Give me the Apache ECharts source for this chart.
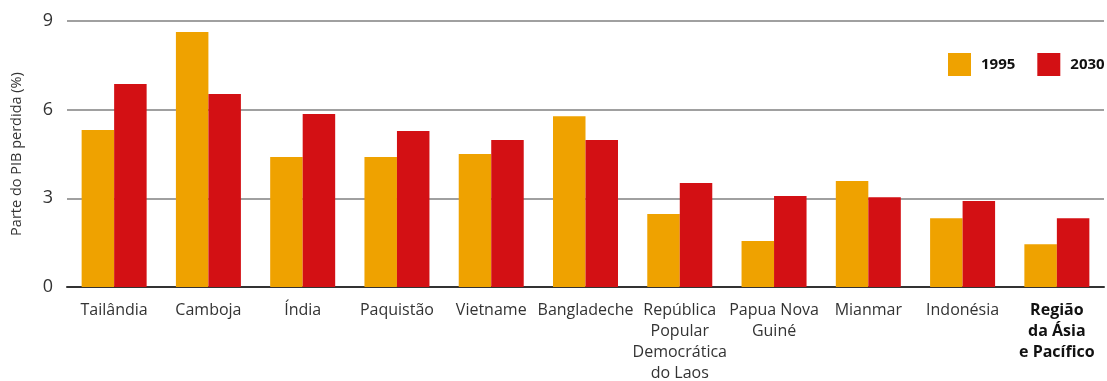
<!DOCTYPE html>
<html>
<head>
<meta charset="utf-8">
<script src="https://cdn.jsdelivr.net/npm/echarts@6/dist/echarts.min.js"></script>
<style>
  html, body { margin: 0; padding: 0; background: #fff; }
  #chart { width: 1107px; height: 381px; }
</style>
</head>
<body>
<div id="chart"></div>
<script>
// Share of GDP lost (%) by country, 1995 vs 2030
const categories = [
  'Tailândia', 'Camboja', 'Índia', 'Paquistão', 'Vietname', 'Bangladeche',
  'República\nPopular\nDemocrática\ndo Laos', 'Papua Nova\nGuiné', 'Mianmar',
  'Indonésia', 'Região\nda Ásia\ne Pacífico'
];
const values1995 = [5.31, 8.63, 4.40, 4.40, 4.50, 5.78, 2.47, 1.56, 3.59, 2.33, 1.45];
const values2030 = [6.87, 6.53, 5.85, 5.28, 4.97, 4.97, 3.52, 3.08, 3.04, 2.91, 2.33];
const yTicks = [0, 3, 6, 9];

const FONT = '"Open Sans", Roboto, sans-serif';
const chart = echarts.init(document.getElementById('chart'), null, { renderer: 'canvas' });

chart.setOption({
  animation: false,
  textStyle: { fontFamily: FONT },
  legend: {
    left: 948,
    top: 53,
    padding: 0,
    itemWidth: 23,
    itemHeight: 23,
    itemGap: 22,
    icon: 'rect',
    textStyle: {
      fontFamily: FONT, fontSize: 15, fontWeight: 'bold', color: '#111',
      padding: [0, 0, 0, 5]
    },
    data: ['1995', '2030']
  },
  grid: {
    left: 67, right: 3, top: 21, bottom: 94,
    containLabel: false,
    outerBoundsMode: 'none'
  },
  xAxis: {
    type: 'category',
    data: categories,
    axisLine: { show: true, lineStyle: { color: '#333', width: 2 } },
    axisTick: { show: false },
    axisLabel: {
      interval: 0,
      margin: 13,
      color: '#333',
      fontSize: 16,
      lineHeight: 21,
      fontFamily: FONT,
      formatter: function (v) {
        return v.indexOf('Região') === 0 ? '{b|' + v.split('\n').join('}\n{b|') + '}' : v;
      },
      rich: {
        b: { fontWeight: 'bold', fontSize: 16, lineHeight: 21, color: '#111', fontFamily: FONT }
      }
    }
  },
  yAxis: {
    type: 'value',
    min: yTicks[0],
    max: yTicks[yTicks.length - 1],
    interval: 3,
    name: 'Parte do PIB perdida (%)',
    nameLocation: 'middle',
    nameGap: 43,
    nameTextStyle: { fontSize: 14.5, color: '#333', fontFamily: FONT },
    axisLine: { show: false },
    axisTick: { show: false },
    axisLabel: { color: '#333', fontSize: 18, margin: 14, fontFamily: FONT },
    splitLine: { lineStyle: { color: '#808080', width: 1.5 } }
  },
  series: [
    {
      name: '1995',
      type: 'bar',
      data: values1995,
      barWidth: 32.5,
      barGap: '0%',
      itemStyle: { color: '#EFA200' }
    },
    {
      name: '2030',
      type: 'bar',
      data: values2030,
      barWidth: 32.5,
      barGap: '0%',
      itemStyle: { color: '#D31014' }
    }
  ]
});
</script>
</body>
</html>
